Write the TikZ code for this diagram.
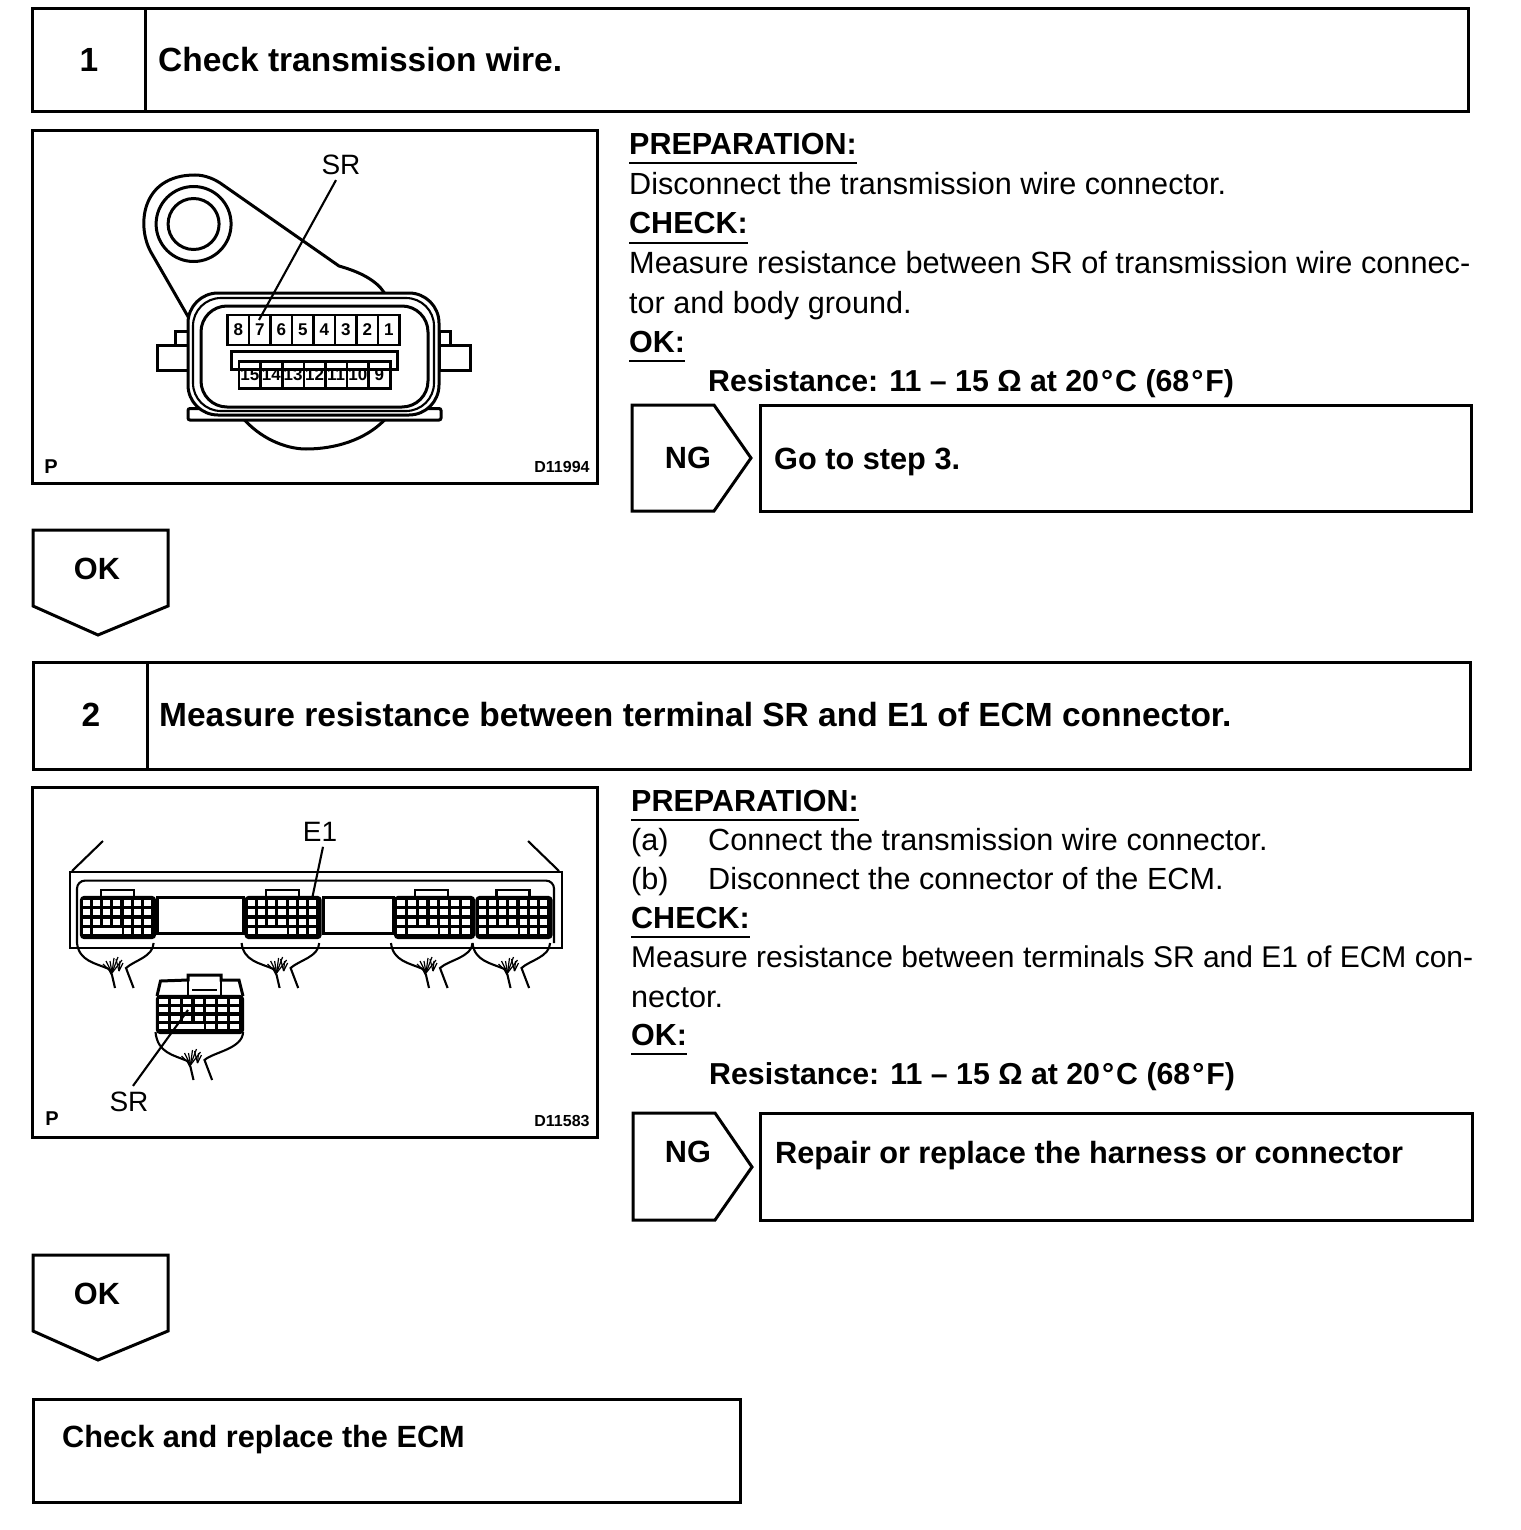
\documentclass[tikz,border=0pt]{standalone}
\usepackage{fontspec}
\setmainfont{Liberation Sans}
\usetikzlibrary{positioning,calc}

% one ECM connector face, x y width height
\newcommand{\plugface}[4]{
  \begin{scope}[shift={(#1,#2)}]
    \draw[thin line, fill=black, rounded corners=3pt] (0,0) rectangle (#3,#4);
    \foreach \r in {0,1,2,3}
      \foreach \c in {0,...,6}
        \fill[white] ({2+\c*(#3-3)/7},{3+\r*(#4-4)/4}) rectangle ++({(#3-3)/7-3.2},{(#4-4)/4-3.2});
    \fill[white] ({2+1.4*(#3-3)/7},{3+3*(#4-4)/4}) rectangle ++({2.4*(#3-3)/7},{(#4-4)/4-3.2});
  \end{scope}
}
% harness behind a connector, x y width start
\newcommand{\plugwires}[4]{
  \begin{scope}[shift={(#1,#2)}]
    \draw[thin line] (-4,#4) .. controls (-2,64) and (14,66) .. (28,72) -- (31,78) -- (34,91);
    \draw[thin line] (#3-1.4,#4) .. controls (#3-2,60) and (54,63) .. (45,71) -- (52.6,91);
    \foreach \a/\b in {22/67,25/64,29/64,33/61,37/60,41/63}
      \draw[hair line] (31,76) -- (\a,\b);
    \foreach \a/\b in {35/62,39/64,42/66}
      \draw[hair line] (38,74) -- (\a,\b);
  \end{scope}
}

\begin{document}
\begin{tikzpicture}[
    x=1pt, y=-1pt,
    box/.style={line width=3pt, draw=black, fill=white, line join=miter},
    frame line/.style={line width=3pt},
    thin line/.style={line width=2.1pt},
    hair line/.style={line width=1.2pt},
    heading/.style={anchor=base west, inner sep=0pt, font=\fontsize{30.5}{30.5}\selectfont\bfseries},
    body/.style={anchor=base west, inner sep=0pt, font=\fontsize{30.6}{30.6}\selectfont},
    sub/.style={anchor=base west, inner sep=0pt, font=\fontsize{30.3}{30.3}\selectfont\bfseries},
    title/.style={inner sep=0pt, font=\fontsize{33.5}{33.5}\selectfont\bfseries},
    note/.style={inner sep=0pt, font=\fontsize{30.7}{30.7}\selectfont\bfseries},
    callout/.style={inner sep=0pt, font=\fontsize{28}{28}\selectfont},
    code/.style={inner sep=0pt, font=\fontsize{16}{16}\selectfont\bfseries},
    letter/.style={inner sep=0pt, font=\fontsize{20}{20}\selectfont\bfseries},
    pin/.style={inner sep=0pt, font=\fontsize{17}{17}\selectfont\bfseries},
    rule/.style={line width=1.8pt}
  ]
  \useasboundingbox (0,0) rectangle (1520,1530);
  \fill[white] (0,0) rectangle (1520,1530);

  % step 1
  \draw[box] (32,9) rectangle (1468,112);
  \draw[frame line] (145,9) -- (145,112);
  \node[title] (num1) at (89,60) {1};
  \node[title, anchor=west] (step1) at (158,60) {Check transmission wire.};

  % figure 1
  \draw[box] (32,131) rectangle (597,483);
  \draw[frame line] (190,320) -- (152,254) .. controls (136,228) and (140,175) .. (195,175)
    .. controls (205,175) and (215,179) .. (223,185)
    -- (339,266) .. controls (360,272) and (376,280) .. (384.5,293);
  \draw[frame line] (193.6,224) circle (37.5);
  \draw[frame line] (193.6,224) circle (25.5);
  \draw[frame line, fill=white] (157,345) rectangle (188,370);
  \draw[frame line, fill=white] (175,331) rectangle (188,345);
  \draw[frame line, fill=white] (439,345) rectangle (470,370);
  \draw[frame line, fill=white] (439,331) rectangle (450,345);
  \draw[frame line] (244.5,420) .. controls (265,442) and (290,449) .. (306,449)
    .. controls (335,449) and (365,440) .. (384.5,420);
  \draw[frame line, fill=white, rounded corners=2pt] (188,408.5) rectangle (441,420);
  \draw[frame line, fill=white, rounded corners=30pt] (188,293) rectangle (439,415);
  \draw[thin line, rounded corners=28pt] (193,298) rectangle (434,411);
  \draw[frame line, rounded corners=26pt] (201,306) rectangle (428,407);
  \draw[frame line, fill=white] (231,351) -- (397,351) -- (397,369) -- (231,369) -- cycle;
  \foreach \n [count=\i from 0] in {8,7,6,5,4,3,2,1} {
    \node[pin, draw, line width=2.6pt, minimum width=21.5pt, minimum height=30pt] (top\n) at ({238.3+\i*21.5},330) {\n};
  }
  \foreach \n [count=\i from 0] in {15,14,13,12,11,10,9} {
    \node[pin, draw, line width=2.6pt, minimum width=21.6pt, minimum height=26.5pt] (low\n) at ({249.8+\i*21.6},375) {\n};
  }
  \node[callout] (sr1) at (341,165) {SR};
  \coordinate (sr1end) at (259,320);
  \draw[thin line] ([xshift=-5pt,yshift=-5pt]sr1.south) -- (sr1end);
  \node[letter] (p1) at (51,467) {P};
  \node[code] (id1) at (562,467) {D11994};

  % text 1
  \node[heading] (prep1) at (629,155) {PREPARATION:};
  \draw[rule] ([yshift=-8pt]prep1.base west) -- ([yshift=-8pt]prep1.base east);
  \node[body] (line1a) at (629,195) {Disconnect the transmission wire connector.};
  \node[heading] (check1) at (629,234) {CHECK:};
  \draw[rule] ([yshift=-9pt]check1.base west) -- ([yshift=-9pt]check1.base east);
  \node[body, font=\fontsize{30.7}{30.7}\selectfont] (line1b) at (629,273) {Measure resistance between SR of transmission wire connec-};
  \node[body] (line1c) at (629,313) {tor and body ground.};
  \node[heading] (ok1) at (629,352) {OK:};
  \draw[rule] ([yshift=-9pt]ok1.base west) -- ([yshift=-9pt]ok1.base east);
  \node[sub] (res1) at (708,391) {Resistance: 11 -- 15 Ω at 20\kern2pt°\kern2pt C (68\kern2pt°\kern2pt F)};

  \draw[box] (632,405) -- (714,405) -- (751,458) -- (714,511) -- (632,511) -- cycle;
  \node[note] (ng1) at (688,458) {NG};
  \draw[box] (760,405) rectangle (1471,511);
  \node[note, anchor=base west] (goto) at (774,469) {Go to step 3.};

  \draw[box] (33,530) -- (168,530) -- (168,606) -- (98,635) -- (33,606) -- cycle;
  \node[note] (ok1b) at (97,569) {OK};

  % step 2
  \draw[box] (33,662) rectangle (1470,769);
  \draw[frame line] (147,662) -- (147,769);
  \node[title] (num2) at (91,715) {2};
  \node[title, anchor=west] (step2) at (159,715) {Measure resistance between terminal SR and E1 of ECM connector.};

  % figure 2
  \draw[box] (32,787) rectangle (597,1137);
  \draw[thin line] (70,871.6) rectangle (562,948);
  \coordinate (capL) at (103,841);
  \coordinate (capR) at (528,841);
  \draw[thin line] (72,871) -- (capL);
  \draw[thin line] (559,871) -- (capR);
  \draw[thin line, rounded corners=8pt] (77,943) -- (77,880.6) -- (554,880.6) -- (554,943);
  \draw[frame line] (157,897) rectangle (243.5,933);
  \draw[frame line] (323,897) rectangle (393,933);
  \foreach \x/\w in {81/74,245.6/75,395/79,476.5/75} {
    \draw[thin line, fill=white] (\x+20,890) rectangle ++(33,11);
    \draw[hair line] (\x+24,897) -- ++(25,0);
    \plugface{\x}{897}{\w}{41}
    \plugwires{\x}{897}{\w}{46}
  }
  \draw[frame line, fill=white] (157,996) -- (160.5,981) -- (188,980) -- (188,975) -- (221,975)
    -- (221,980) -- (239,980) -- (243,996);
  \draw[thin line] (188,980) -- (188,996);
  \draw[thin line] (221,980) -- (221,996);
  \draw[hair line] (192,990) -- (217,990);
  \plugface{157}{996}{86}{37}
  \plugwires{159.5}{989}{85}{43}
  \node[callout] (e1) at (320,832) {E1};
  \coordinate (e1end) at (312,899);
  \draw[thin line] ([xshift=3pt,yshift=-5pt]e1.south) -- (e1end);
  \node[callout] (sr2) at (129,1102) {SR};
  \coordinate (sr2end) at (188,1010);
  \draw[thin line] ([xshift=4pt,yshift=6pt]sr2.north) -- (sr2end);
  \node[letter] (p2) at (52,1119) {P};
  \node[code] (id2) at (562,1121) {D11583};

  % text 2
  \node[heading] (prep2) at (631,811) {PREPARATION:};
  \draw[rule] ([yshift=-9pt]prep2.base west) -- ([yshift=-9pt]prep2.base east);
  \node[body] (tagA) at (631,850) {(a)};
  \node[body] (line2a) at (708,850) {Connect the transmission wire connector.};
  \node[body] (tagB) at (631,889) {(b)};
  \node[body] (line2b) at (708,889) {Disconnect the connector of the ECM.};
  \node[heading] (check2) at (631,928) {CHECK:};
  \draw[rule] ([yshift=-9pt]check2.base west) -- ([yshift=-9pt]check2.base east);
  \node[body, font=\fontsize{30}{30}\selectfont] (line2c) at (631,967) {Measure resistance between terminals SR and E1 of ECM con-};
  \node[body] (line2d) at (631,1007) {nector.};
  \node[heading] (ok2) at (631,1045) {OK:};
  \draw[rule] ([yshift=-9pt]ok2.base west) -- ([yshift=-9pt]ok2.base east);
  \node[sub] (res2) at (709,1084) {Resistance: 11 -- 15 Ω at 20\kern2pt°\kern2pt C (68\kern2pt°\kern2pt F)};

  \draw[box] (633,1113) -- (715,1113) -- (752,1167) -- (715,1220) -- (633,1220) -- cycle;
  \node[note] (ng2) at (688,1152) {NG};
  \draw[box] (760,1113) rectangle (1472,1220);
  \node[note, anchor=base west] (repair) at (775,1163) {Repair or replace the harness or connector};

  \draw[box] (33,1255) -- (168,1255) -- (168,1331) -- (98,1360) -- (33,1331) -- cycle;
  \node[note] (ok2b) at (97,1294) {OK};

  \draw[box] (33,1399) rectangle (740,1502);
  \node[note, anchor=base west] (ecm) at (62,1447) {Check and replace the ECM};
\end{tikzpicture}
\end{document}
